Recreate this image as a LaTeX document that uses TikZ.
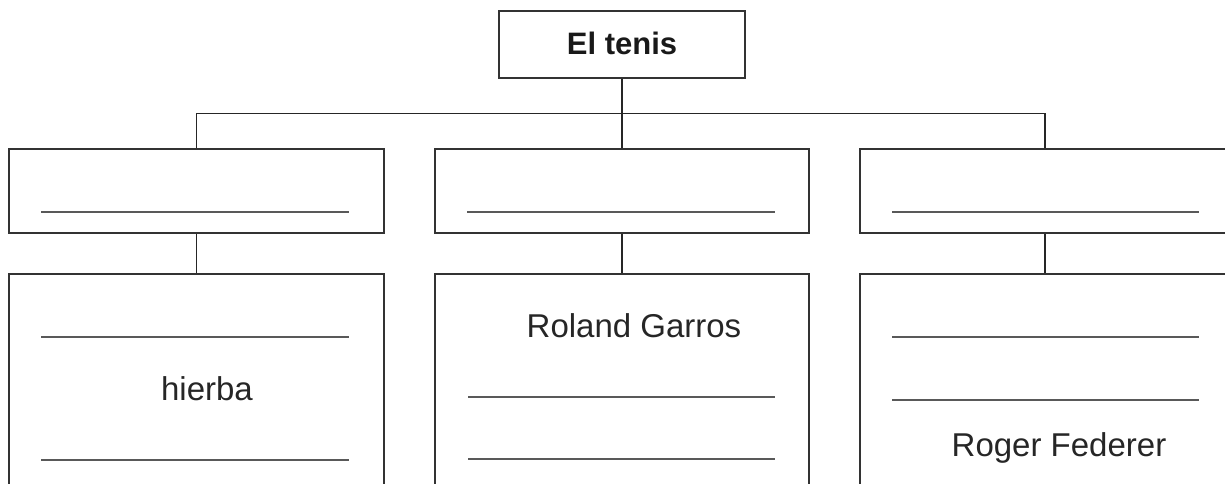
\documentclass[tikz,border=0pt]{standalone}
\usepackage{fontspec}
\setmainfont{Liberation Sans}
\begin{document}
\begin{tikzpicture}[x=1pt,y=-1pt,
  boxstyle/.style={draw=black!80,line width=1.3pt,rectangle,inner sep=0pt},
  conn/.style={draw=black!85,line width=1.2pt},
  blank/.style={draw=black!65,line width=1.6pt},
  lbl/.style={anchor=base,inner sep=0pt,font=\fontsize{33}{38}\selectfont,text=black!85}]
\useasboundingbox (0,0) rectangle (1225,483);
\clip (0,0) rectangle (1225,483);
% title
\node[boxstyle,minimum width=246pt,minimum height=67pt] (top) at (622,44.5) {};
\node[lbl,font=\fontsize{31}{36}\selectfont\bfseries,text=black!90] (ttl) at (622,54) {El tenis};
% row 1
\node[boxstyle,minimum width=375pt,minimum height=84pt] (a1) at (196.5,191) {};
\node[boxstyle,minimum width=374pt,minimum height=84pt] (a2) at (622,191) {};
\node[boxstyle,minimum width=370pt,minimum height=84pt] (a3) at (1045,191) {};
% row 2 (open at the bottom, clipped)
\node[boxstyle,minimum width=375pt,minimum height=240pt] (b1) at (196.5,394) {};
\node[boxstyle,minimum width=374pt,minimum height=240pt] (b2) at (622,394) {};
\node[boxstyle,minimum width=370pt,minimum height=240pt] (b3) at (1045,394) {};
% connectors
\draw[conn] (top.south) -- (a2.north);
\draw[conn] (a1.north) -- ++(0,-35) coordinate (hl) -| (a3.north);
\draw[conn] (a1.south) -- (b1.north);
\draw[conn] (a2.south) -- (b2.north);
\draw[conn] (a3.south) -- (b3.north);
% blank answer lines
\draw[blank] (41,212) -- (349,212);
\draw[blank] (467,212) -- (775,212);
\draw[blank] (892,212) -- (1199,212);
\draw[blank] (41,337) -- (349,337);
\draw[blank] (41,460) -- (349,460);
\draw[blank] (468,397) -- (775,397);
\draw[blank] (468,459) -- (775,459);
\draw[blank] (892,337) -- (1199,337);
\draw[blank] (892,400) -- (1199,400);
% texts
\node[lbl] (t1) at (207,400) {hierba};
\node[lbl] (t2) at (634,337) {Roland Garros};
\node[lbl] (t3) at (1059,456) {Roger Federer};
\end{tikzpicture}
\end{document}
